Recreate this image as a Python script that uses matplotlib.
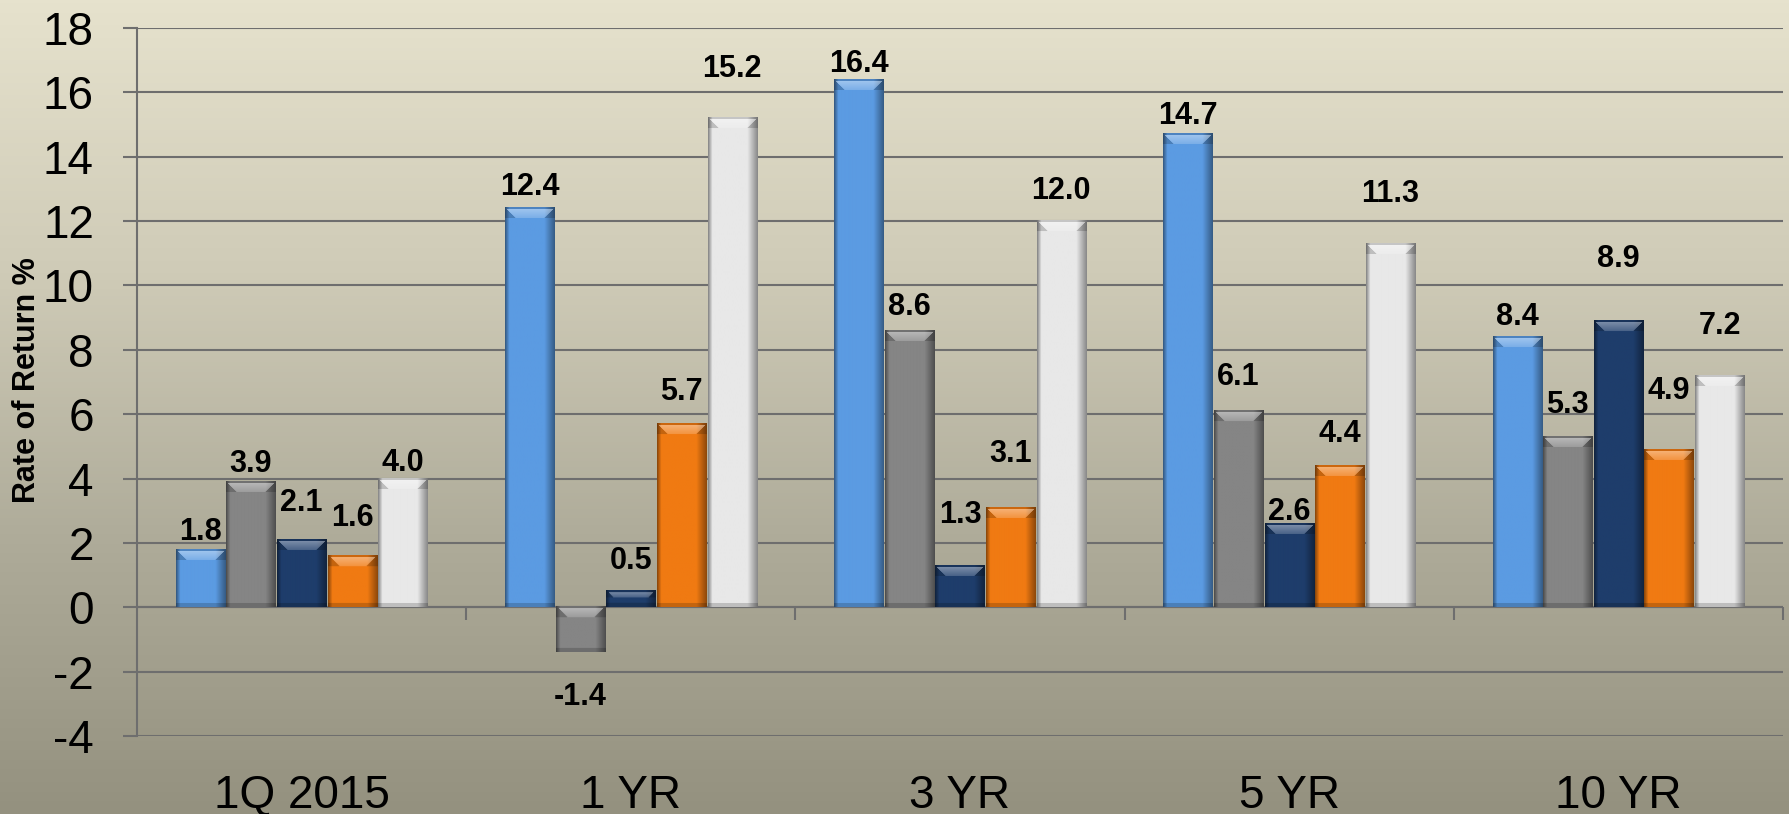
import numpy as np
import matplotlib
matplotlib.use("Agg")
import matplotlib.pyplot as plt
from matplotlib.colors import LinearSegmentedColormap, to_rgb

plt.rcParams["font.family"] = ["Liberation Sans", "DejaVu Sans"]
plt.rcParams["axes.unicode_minus"] = False

periods = ["1Q 2015", "1 YR", "3 YR", "5 YR", "10 YR"]
series_1 = [1.8, 12.4, 16.4, 14.7, 8.4]
series_2 = [3.9, -1.4, 8.6, 6.1, 5.3]
series_3 = [2.1, 0.5, 1.3, 2.6, 8.9]
series_4 = [1.6, 5.7, 3.1, 4.4, 4.9]
series_5 = [4.0, 15.2, 12.0, 11.3, 7.2]
y_ticks = list(range(-4, 19, 2))

series = [series_1, series_2, series_3, series_4, series_5]
colors = ["#5B9BE2", "#858585", "#1E3D6B", "#F07A12", "#E8E8E8"]

# gap (px) between bar end and label centre, labels sit unevenly in the original
label_gaps = [
    [17, 21, 15, 18, 20],
    [18, 45, 24, 34, 32],
    [37, 30, 50, 12, 62],
    [38, 32, 54, 32, 59],
    [16, 49, 30, 50, 50],
]

W, H = 1790, 814
left, right, bottom, top = 137, 1783, 736, 28
ymin, ymax = -4, 18
grid_col = "#6E6E6E"

fig = plt.figure(figsize=(W / 100, H / 100), dpi=100)

# background gradient
bg = fig.add_axes([0, 0, 1, 1], zorder=-10)
bg_cmap = LinearSegmentedColormap.from_list(
    "bg", ["#E6E2CD", "#CFCBB7", "#AEAB99", "#94917F"])
bg.imshow(np.linspace(0, 1, 256).reshape(-1, 1), cmap=bg_cmap,
          aspect="auto", extent=[0, 1, 0, 1])
bg.axis("off")

ax = fig.add_axes([left / W, 1 - bottom / H, (right - left) / W, (bottom - top) / H])
ax.patch.set_alpha(0)

px_x = (right - left) / 5.0
px_y = (bottom - top) / float(ymax - ymin)


def bevel(bar, color):
    x0, w = bar.get_x(), bar.get_width()
    y_lo, y_hi = sorted([bar.get_y(), bar.get_y() + bar.get_height()])
    wpx, hpx = w * px_x, (y_hi - y_lo) * px_y
    nx, ny = max(int(round(wpx)), 2), max(int(round(hpx)), 2)
    U, T = np.meshgrid(np.linspace(0, wpx, nx), np.linspace(0, hpx, ny))
    dl, dr, db = U, wpx - U, hpx - T
    f = np.ones((ny, nx))
    f *= np.where(dl < 4, 0.6 + 0.1 * dl, 1.0)
    f *= np.where(dr < 10, 0.6 + 0.04 * dr, 1.0)
    f *= np.where(db < 4, 0.82, 1.0)
    f *= np.where(T < 1.5, 0.85, 1.0)
    rgb = np.array(to_rgb(color))[None, None, :] * f[..., None]
    bev = min(11.0, hpx * 0.45)
    top_face = (T < bev) & (dl > T) & (dr > T) & (T >= 1.5)
    corner = (T < bev) & (T >= 1.5) & ~top_face
    mix = (0.45 * (1 - 0.6 * T / bev))[..., None]
    rgb = np.where(top_face[..., None], rgb + (1 - rgb) * mix, rgb)
    rgb = np.where(corner[..., None], rgb * 0.82, rgb)
    ax.imshow(np.clip(rgb, 0, 1), extent=(x0, x0 + w, y_lo, y_hi), origin="upper",
              aspect="auto", interpolation="bilinear", zorder=3.5)


x = np.arange(len(periods))
bw = 1 / 6.5
for i, (vals, col) in enumerate(zip(series, colors)):
    bars = ax.bar(x + (i - 2) * bw, vals, bw * 0.97, color=col, zorder=3)
    for b, v, gap in zip(bars, vals, label_gaps[i]):
        bevel(b, col)
        ax.annotate(f"{v:.1f}", (b.get_x() + b.get_width() / 2, v),
                    xytext=(0, gap if v >= 0 else -gap), textcoords="offset pixels",
                    ha="center", va="center", fontsize=22, fontweight="bold",
                    zorder=5)

ax.set_xlim(-0.5, len(periods) - 0.5)
ax.set_ylim(ymin, ymax)
ax.set_yticks(y_ticks)
ax.yaxis.grid(True, color=grid_col, lw=1.5)
ax.set_axisbelow(True)
ax.set_xticks(x, periods)

for s in ["top", "right", "bottom"]:
    ax.spines[s].set_visible(False)
ax.spines["left"].set_color(grid_col)
ax.spines["left"].set_linewidth(1.5)

ax.tick_params(axis="y", direction="out", length=10, width=1.5, color=grid_col,
               labelsize=33, pad=21)
ax.tick_params(axis="x", length=0, labelsize=33, pad=27)

# zero line with category separators
ax.axhline(0, color=grid_col, lw=1.5, zorder=2)
zero_frac = (0 - ymin) / (ymax - ymin)
ax.vlines(np.arange(0.5, len(periods)), zero_frac - 13 / (bottom - top), zero_frac,
          transform=ax.get_xaxis_transform(), color=grid_col, lw=1.5, clip_on=False)

fig.text(27 / W, 1 - 380 / H, "Rate of Return %", rotation=90, ha="center",
         va="center", fontsize=22, fontweight="bold")

fig.savefig("out.png", dpi=100)
